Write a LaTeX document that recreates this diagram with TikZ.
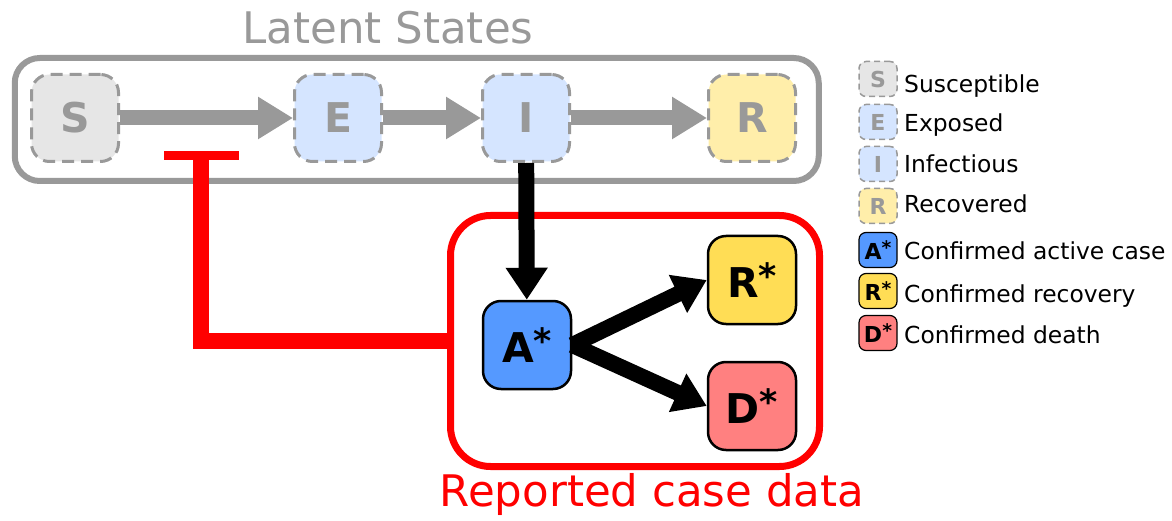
\documentclass[tikz,border=0pt]{standalone}
\usepackage{fontspec}
\setmainfont{DejaVu Sans}
\usetikzlibrary{arrows.meta,positioning}
\definecolor{latgrey}{HTML}{999999}
\definecolor{sfill}{HTML}{E6E6E6}
\definecolor{eifill}{HTML}{D5E5FF}
\definecolor{rfill}{HTML}{FFEEAA}
\definecolor{afill}{HTML}{5599FF}
\definecolor{rcfill}{HTML}{FFDD55}
\definecolor{dfill}{HTML}{FF8080}
\definecolor{repred}{HTML}{FF0000}
% confirmed compartment: letter with a raised star
\newcommand{\confd}[1]{#1\raisebox{0.2em}{\scalebox{0.85}{*}}}

\tikzset{
  latent/.style={draw=latgrey, line width=3pt, dash pattern=on 12pt off 7pt,
    rounded corners=18pt, minimum width=87pt, minimum height=87pt,
    text=latgrey, font=\fontsize{41}{41}\selectfont\bfseries},
  confirmed/.style={draw=black, line width=2.5pt, rounded corners=18pt,
    minimum width=88pt, minimum height=88pt, font=\fontsize{41}{41}\selectfont\bfseries},
  leglat/.style={draw=latgrey, line width=1.5pt, dash pattern=on 6pt off 4pt,
    rounded corners=7pt, minimum width=38pt, minimum height=35pt, inner sep=0pt,
    text=latgrey, font=\fontsize{22}{22}\selectfont\bfseries},
  legconf/.style={draw=black, line width=1.2pt, rounded corners=7pt,
    minimum width=38pt, minimum height=35pt, inner sep=0pt,
    font=\fontsize{22}{22}\selectfont\bfseries},
  legtext/.style={anchor=base west, inner sep=0pt, font=\fontsize{23.4}{23.4}\selectfont},
  flow/.style={line width=15pt, draw=latgrey, -{Triangle[width=40pt,length=35pt]}},
  report/.style={line width=16pt, draw=black, -{Triangle[width=40pt,length=32pt]}},
  inhibit/.style={line width=16pt, draw=repred, -{Rectangle[width=75pt,length=9pt]}},
}

\begin{document}
\begin{tikzpicture}[x=1pt,y=-1pt]
\useasboundingbox (0,0) rectangle (1172,521);
% latent compartments
\node[draw=latgrey, line width=6pt, rounded corners=25pt, minimum width=804pt,
  minimum height=123pt] (latentbox) at (416.75,119.5) {};
\node[text=latgrey, font=\fontsize{43.5}{43.5}\selectfont] (latenttitle) at (388,28) {Latent States};
\node[latent, fill=sfill] (S) at (75,118) {S};
\node[latent, fill=eifill] (E) at (338,118) {E};
\node[latent, fill=eifill] (I) at (526,118) {I};
\node[latent, fill=rfill] (R) at (752,118) {R};
\draw[flow] (S) -- (E);
\draw[flow] (E) -- (I);
\draw[flow] (I) -- (R);

% reported compartments
\node[draw=repred, line width=7pt, rounded corners=40pt, minimum width=369pt,
  minimum height=251pt] (cases) at (635,341) {};
\node[text=repred, font=\fontsize{43.5}{43.5}\selectfont] (casetitle) at (652,494) {Reported case data};
\node[confirmed, fill=afill] (A) at (527,345) {\confd{A}};
\node[confirmed, fill=rcfill] (Rc) at (752,280) {\confd{R}};
\node[confirmed, fill=dfill] (D) at (752,406) {\confd{D}};
\draw[report] (I) -- (A);
\draw[report] (A.east) -- (Rc.west);
\draw[report] (A.east) -- (D.west);

% case data feeds back on susceptibles
\coordinate (inhib) at (201,151);
\draw[inhibit] (cases.west) -| (inhib);

% legend
\node[leglat, fill=sfill] (lS) at (878,79) {S};
\node[legtext] (tS) at (904,93) {Susceptible};
\node[leglat, fill=eifill] (lE) at (878,122) {E};
\node[legtext] (tE) at (904,132) {Exposed};
\node[leglat, fill=eifill] (lI) at (878,164) {I};
\node[legtext] (tI) at (904,173) {Infectious};
\node[leglat, fill=rfill] (lR) at (878,206) {R};
\node[legtext] (tR) at (904,213) {Recovered};
\node[legconf, fill=afill] (lA) at (878,250) {\confd{A}};
\node[legtext] (tA) at (904,260) {Confirmed active case};
\node[legconf, fill=rcfill] (lRc) at (878,291) {\confd{R}};
\node[legtext] (tRc) at (904,302) {Confirmed recovery};
\node[legconf, fill=dfill] (lD) at (878,333) {\confd{D}};
\node[legtext] (tD) at (904,343) {Confirmed death};
\end{tikzpicture}
\end{document}
